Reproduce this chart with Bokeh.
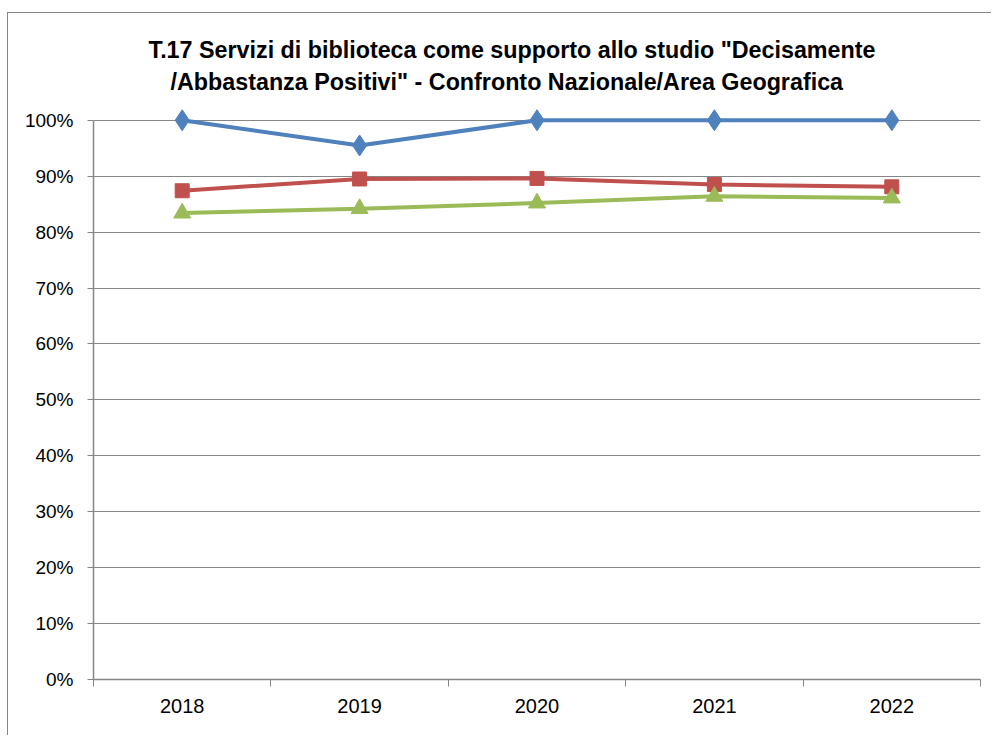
from bokeh.plotting import figure
from bokeh.models import FixedTicker, PrintfTickFormatter, Range1d, Title
from bokeh.embed import file_html
from bokeh.resources import INLINE

years = ["2018", "2019", "2020", "2021", "2022"]
serie_a = [100.0, 95.5, 100.0, 100.0, 100.0]
serie_b = [87.4, 89.5, 89.6, 88.5, 88.1]
serie_c = [83.4, 84.2, 85.2, 86.4, 86.1]
y_ticks = [0, 10, 20, 30, 40, 50, 60, 70, 80, 90, 100]
title_1 = 'T.17 Servizi di biblioteca come supporto allo studio "Decisamente'
title_2 = '/Abbastanza Positivi" - Confronto Nazionale/Area Geografica'

FONT = "Liberation Sans"
GRID = "#868686"

xs = [i + 0.5 for i in range(len(years))]

p = figure(width=984, height=723, output_backend="svg", toolbar_location=None,
           x_range=Range1d(0, len(years)), y_range=Range1d(0, 103),
           min_border_left=85, min_border_right=12, min_border_top=90,
           min_border_bottom=57)
p.title = None
p.outline_line_color = None
p.background_fill_color = "white"
p.border_fill_color = "white"
p.styles = {"border-left": "1px solid #868686", "border-top": "1px solid #868686",
            "margin-left": "7px", "margin-top": "12px"}

p.add_layout(Title(text=title_2, align="left", text_font=FONT, text_font_size="23.3px",
                   text_font_style="bold", text_color="black", offset=77, standoff=18), "above")
p.add_layout(Title(text=title_1, align="left", text_font=FONT, text_font_size="23.3px",
                   text_font_style="bold", text_color="black", offset=55, standoff=-10), "above")

# x axis: labels centred in categories, ticks between categories
xa = p.xaxis[0]
xa.ticker = FixedTicker(ticks=xs, minor_ticks=list(range(len(years) + 1)))
xa.major_label_overrides = {x: y for x, y in zip(xs, years)}
xa.major_tick_out = 0
xa.major_tick_in = 0
xa.minor_tick_out = 7
xa.minor_tick_in = 0
xa.minor_tick_line_color = GRID
xa.axis_line_color = GRID
xa.axis_line_width = 1.5
xa.major_label_text_font = FONT
xa.major_label_text_font_size = "20px"
xa.major_label_text_color = "black"
xa.major_label_standoff = 12

ya = p.yaxis[0]
ya.ticker = FixedTicker(ticks=y_ticks)
ya.formatter = PrintfTickFormatter(format="%d%%")
ya.bounds = (0, 100)
ya.major_tick_out = 6
ya.major_tick_in = 0
ya.minor_tick_line_color = None
ya.major_tick_line_color = GRID
ya.axis_line_color = GRID
ya.axis_line_width = 1.5
ya.major_label_text_font = FONT
ya.major_label_text_font_size = "19px"
ya.major_label_text_color = "black"
ya.major_label_standoff = 14

p.xgrid.grid_line_color = None
p.ygrid.ticker = FixedTicker(ticks=y_ticks)
p.ygrid.grid_line_color = GRID
p.ygrid.grid_line_width = 1.2

blue, red, green = "#4F81BD", "#C0504D", "#9BBB59"
p.line(xs, serie_a, line_color=blue, line_width=4)
p.scatter(xs, serie_a, marker="diamond", size=21, fill_color=blue, line_color=blue)
p.line(xs, serie_b, line_color=red, line_width=4)
p.scatter(xs, serie_b, marker="square", size=14, fill_color=red, line_color=red)
p.line(xs, serie_c, line_color=green, line_width=4)
p.scatter(xs, serie_c, marker="triangle", size=17, fill_color=green, line_color=green)

open("out.html", "w").write(file_html(p, INLINE))
